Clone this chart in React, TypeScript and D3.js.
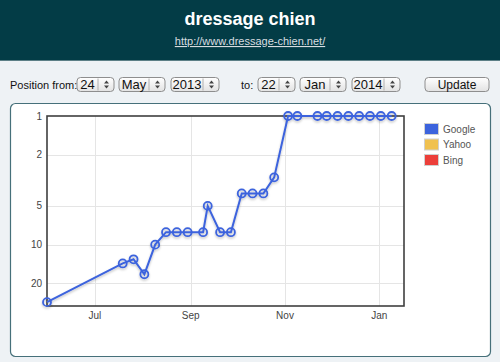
import React, { useEffect, useRef } from "react";
import * as d3 from "d3";

// weekly positions of the site in Google
const dates = [
  "2013-05-31", "2013-07-19", "2013-07-26", "2013-08-02", "2013-08-09",
  "2013-08-16", "2013-08-23", "2013-08-30", "2013-09-09", "2013-09-12",
  "2013-09-20", "2013-09-27", "2013-10-04", "2013-10-11", "2013-10-18",
  "2013-10-25", "2013-11-03", "2013-11-09", "2013-11-22", "2013-11-28",
  "2013-12-05", "2013-12-12", "2013-12-19", "2013-12-26", "2014-01-02",
  "2014-01-09",
];
const googleRanks = [28, 14, 13, 17, 10, 8, 8, 8, 8, 5, 8, 8, 4, 4, 4, 3, 1, 1, 1, 1, 1, 1, 1, 1, 1, 1];

const engines = ["Google", "Yahoo", "Bing"];
const engineColors = ["#3c63dd", "#f0c14f", "#ec3f3a"];

const yTicks = [1, 2, 5, 10, 20];
const xTickDates = ["2013-07-01", "2013-09-01", "2013-11-01", "2014-01-01"];
const xTickLabels = ["Jul", "Sep", "Nov", "Jan"];

const fromFields = ["24", "May", "2013"];
const toFields = ["22", "Jan", "2014"];

const FONT = "Helvetica, Arial, 'Liberation Sans', sans-serif";

const App = () => {
  const ref = useRef<SVGSVGElement>(null);

  useEffect(() => {
    const svg = d3.select(ref.current);
    svg.selectAll("*").remove();
    const width = 500;
    const height = 362;
    const parse = d3.timeParse("%Y-%m-%d");

    const defs = svg.append("defs");
    const grad = defs.append("linearGradient").attr("id", "btn").attr("x1", 0).attr("y1", 0).attr("x2", 0).attr("y2", 1);
    grad.append("stop").attr("offset", "0%").attr("stop-color", "#ffffff");
    grad.append("stop").attr("offset", "100%").attr("stop-color", "#e2e2e2");
    const shadow = defs.append("filter").attr("id", "shadow").attr("x", "-10%").attr("y", "-10%").attr("width", "120%").attr("height", "130%");
    shadow.append("feDropShadow").attr("dx", 0).attr("dy", 1.5).attr("stdDeviation", 1).attr("flood-color", "#000").attr("flood-opacity", 0.25);

    // page background + header
    svg.append("rect").attr("width", width).attr("height", height).attr("fill", "#eef2f5");
    svg.append("rect").attr("width", width).attr("height", 60).attr("fill", "#033c46");
    svg.append("line").attr("x1", 0).attr("x2", width).attr("y1", 60.5).attr("y2", 60.5).attr("stroke", "#5c7f86");
    svg.append("text").attr("x", width / 2).attr("y", 25).attr("text-anchor", "middle")
      .attr("fill", "#fff").attr("font-family", FONT).attr("font-size", 18).attr("font-weight", "bold")
      .text("dressage chien");
    svg.append("text").attr("x", width / 2).attr("y", 45).attr("text-anchor", "middle")
      .attr("fill", "#d8dde0").attr("font-family", FONT).attr("font-size", 11)
      .attr("text-decoration", "underline").text("http://www.dressage-chien.net/");

    // date pickers row
    const drawSelect = (x: number, w: number, label: string) => {
      const g = svg.append("g").attr("transform", `translate(${x},77.5)`);
      g.append("rect").attr("width", w).attr("height", 14).attr("rx", 3.5)
        .attr("fill", "url(#btn)").attr("stroke", "#8e8e8e");
      g.append("line").attr("x1", w - 16).attr("x2", w - 16).attr("y1", 1).attr("y2", 13).attr("stroke", "#b0b0b0");
      g.append("path").attr("d", `M${w - 10},6 l2.5,-3 l2.5,3 Z M${w - 10},8 l2.5,3 l2.5,-3 Z`).attr("fill", "#444");
      g.append("text").attr("x", (w - 16) / 2).attr("y", 11.5).attr("text-anchor", "middle")
        .attr("font-family", FONT).attr("font-size", 13).attr("fill", "#111").text(label);
    };
    const rowText = (x: number, t: string) =>
      svg.append("text").attr("x", x).attr("y", 89).attr("font-family", FONT).attr("font-size", 11)
        .attr("fill", "#111").text(t);
    rowText(10, "Position from:");
    const fromX = [77, 119, 171];
    const toX = [258, 300, 352];
    const widths = [37, 46, 48];
    fromFields.forEach((f, i) => drawSelect(fromX[i], widths[i], f));
    rowText(241, "to:");
    toFields.forEach((f, i) => drawSelect(toX[i], widths[i], f));
    const ub = svg.append("g").attr("transform", "translate(425,77.5)");
    ub.append("rect").attr("width", 64).attr("height", 14).attr("rx", 3.5).attr("fill", "url(#btn)").attr("stroke", "#8e8e8e");
    ub.append("text").attr("x", 32).attr("y", 11.5).attr("text-anchor", "middle")
      .attr("font-family", FONT).attr("font-size", 12).attr("fill", "#111").text("Update");

    // chart panel
    svg.append("rect").attr("x", 10.5).attr("y", 103.5).attr("width", 480).attr("height", 253).attr("rx", 5)
      .attr("fill", "#fff").attr("stroke", "#46707a").attr("stroke-width", 1.2);

    const left = 47, right = 404, top = 116, bottom = 306;
    const x = d3.scaleTime().domain([parse("2013-05-31")!, parse("2014-01-17")!]).range([left, right]);
    const y = d3.scaleLog().domain([1, 30]).range([top, bottom]);

    const grid = svg.append("g").attr("stroke", "#e5e5e5").attr("stroke-width", 1);
    xTickDates.forEach((d) => {
      const xx = Math.round(x(parse(d)!)) + 0.5;
      grid.append("line").attr("x1", xx).attr("x2", xx).attr("y1", top).attr("y2", bottom);
    });
    yTicks.slice(1).forEach((t) => {
      const yy = Math.round(y(t)) + 0.5;
      grid.append("line").attr("x1", left).attr("x2", right).attr("y1", yy).attr("y2", yy);
    });

    svg.append("rect").attr("x", left).attr("y", top).attr("width", right - left).attr("height", bottom - top)
      .attr("fill", "none").attr("stroke", "#3f3f3f").attr("stroke-width", 1.6);

    const axisFont = (sel: any) => sel.attr("font-family", FONT).attr("font-size", 10).attr("fill", "#444");
    yTicks.forEach((t) => {
      axisFont(svg.append("text").attr("x", 42).attr("y", y(t) + 3.5).attr("text-anchor", "end").text(String(t)));
    });
    xTickDates.forEach((d, i) => {
      axisFont(svg.append("text").attr("x", x(parse(d)!)).attr("y", 319).attr("text-anchor", "middle").text(xTickLabels[i]));
    });

    const pts = dates.map((d, i) => ({ date: parse(d)!, rank: googleRanks[i] }));
    const line = d3.line<{ date: Date; rank: number }>().x((d) => x(d.date)).y((d) => y(d.rank));
    const series = svg.append("g").attr("filter", "url(#shadow)");
    series.append("path").attr("d", line(pts)).attr("fill", "none").attr("stroke", engineColors[0]).attr("stroke-width", 2);
    series.selectAll("circle").data(pts).enter().append("circle")
      .attr("cx", (d) => x(d.date)).attr("cy", (d) => y(d.rank)).attr("r", 4)
      .attr("fill", "none").attr("stroke", engineColors[0]).attr("stroke-width", 1.8);

    // legend
    const lg = svg.append("g").attr("transform", "translate(424,123)");
    engines.forEach((e, i) => {
      const row = lg.append("g").attr("transform", `translate(0,${i * 15.5})`);
      row.append("rect").attr("x", 0.5).attr("y", 0.5).attr("width", 14).attr("height", 11)
        .attr("fill", engineColors[i]).attr("stroke", "#d0d0d0");
      row.append("text").attr("x", 19).attr("y", 9.5).attr("font-family", FONT).attr("font-size", 10)
        .attr("fill", "#555").text(e);
    });
  }, []);

  return (
    <svg ref={ref} width={500} height={362} style={{ position: "absolute", left: 0, top: 0 }} />
  );
};

export default App;
